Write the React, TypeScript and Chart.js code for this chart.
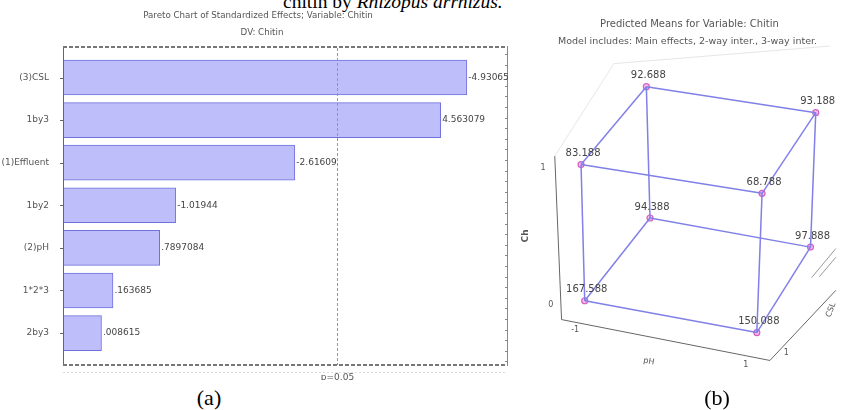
import React, { useEffect, useRef } from "react";
import { Chart, registerables } from "chart.js";

Chart.register(...registerables);

// ---------- Panel (a): Pareto chart ----------
const categories = ["(3)CSL", "1by3", "(1)Effluent", "1by2", "(2)pH", "1*2*3", "2by3"];
// bar lengths as drawn in the picture (standardized effect units)
const effectLengths = [4.93, 4.61, 2.83, 1.375, 1.18, 0.61, 0.47];
const effectLabels = ["-4.93065", "4.563079", "-2.61609", "-1.01944", ".7897084", ".163685", ".008615"];
const pCritical = 3.34;
const pLabel = "p=0.05";
const paretoTitle = ["Pareto Chart of Standardized Effects; Variable: Chitin", "DV: Chitin"];

// ---------- Panel (b): cube of predicted means ----------
const cubeMeans = [167.588, 150.088, 94.388, 97.888, 83.188, 68.788, 92.688, 93.188];
const levelA = [-1, 1, -1, 1, -1, 1, -1, 1]; // horizontal factor (pH)
const levelB = [-1, -1, -1, -1, 1, 1, 1, 1]; // vertical factor
const levelC = [-1, -1, 1, 1, -1, -1, 1, 1]; // depth factor
const cubeEdges = [
  [0, 1], [2, 3], [4, 5], [6, 7],
  [0, 2], [1, 3], [4, 6], [5, 7],
  [0, 4], [1, 5], [2, 6], [3, 7],
];
const cubeTitle = [
  "Predicted Means for Variable: Chitin",
  "Model includes: Main effects, 2-way inter., 3-way inter.",
];

const FONT = "DejaVu Sans";
const TXT = "#444";

function ParetoChart() {
  const ref = useRef<HTMLCanvasElement>(null);
  useEffect(() => {
    const decor = {
      id: "paretoDecor",
      afterDatasetsDraw(chart: any) {
        const ctx = chart.ctx as CanvasRenderingContext2D;
        const { left, right, top, bottom } = chart.chartArea;
        ctx.save();
        // title
        ctx.fillStyle = "#555";
        ctx.font = `8.7px "${FONT}"`;
        ctx.textAlign = "center";
        ctx.textBaseline = "middle";
        ctx.fillText(paretoTitle[0], 258, 16);
        ctx.fillText(paretoTitle[1], 262, 33);

        // left axis
        ctx.strokeStyle = "#666";
        ctx.lineWidth = 1;
        ctx.beginPath();
        ctx.moveTo(left + 0.5, top);
        ctx.lineTo(left + 0.5, bottom + 1);
        ctx.stroke();
        const ys = chart.scales.y;
        categories.forEach((_, i) => {
          const y = Math.round(ys.getPixelForValue(i)) + 0.5;
          ctx.beginPath();
          ctx.moveTo(left - 3, y);
          ctx.lineTo(left + 1, y);
          ctx.stroke();
        });
        // right axis
        ctx.strokeStyle = "#888";
        ctx.beginPath();
        ctx.moveTo(right + 0.5, top);
        ctx.lineTo(right + 0.5, bottom + 1);
        ctx.stroke();
        for (let y = top + 8; y < bottom; y += 10.6) {
          ctx.beginPath();
          ctx.moveTo(right - 2, Math.round(y) + 0.5);
          ctx.lineTo(right, Math.round(y) + 0.5);
          ctx.stroke();
        }
        // top and bottom dashed axes
        ctx.lineWidth = 2;
        ctx.setLineDash([4, 2]);
        ctx.strokeStyle = "#777";
        ctx.beginPath();
        ctx.moveTo(left, top + 1);
        ctx.lineTo(right, top + 1);
        ctx.stroke();
        ctx.beginPath();
        ctx.moveTo(left, bottom);
        ctx.lineTo(right, bottom);
        ctx.stroke();
        // faint dotted row below
        ctx.lineWidth = 1;
        ctx.setLineDash([2, 2]);
        ctx.strokeStyle = "#dcdcdc";
        ctx.beginPath();
        ctx.moveTo(left, bottom + 7.5);
        ctx.lineTo(right, bottom + 7.5);
        ctx.stroke();

        // critical p line
        const px = Math.round(chart.scales.x.getPixelForValue(pCritical)) + 0.5;
        ctx.strokeStyle = "rgb(232,110,150)";
        ctx.lineWidth = 1;
        ctx.setLineDash([3, 2]);
        ctx.beginPath();
        ctx.moveTo(px, top + 2);
        ctx.lineTo(px, bottom);
        ctx.stroke();
        ctx.setLineDash([]);
        ctx.fillStyle = "#555";
        ctx.font = `9px "${FONT}"`;
        ctx.textAlign = "center";
        ctx.textBaseline = "middle";
        ctx.fillText(pLabel, px, bottom + 13);

        // value labels
        const meta = chart.getDatasetMeta(0);
        ctx.fillStyle = TXT;
        ctx.font = `9px "${FONT}"`;
        ctx.textAlign = "left";
        meta.data.forEach((el: any, i: number) => {
          ctx.fillText(effectLabels[i], el.x + 1.5, el.y);
        });
        ctx.restore();
      },
    };
    const chart = new Chart(ref.current as HTMLCanvasElement, {
      type: "bar",
      data: {
        datasets: [
          {
            data: effectLengths.map((v, i) => ({ x: v, y: i })),
            backgroundColor: "rgb(190,190,250)",
            borderColor: "rgb(112,112,222)",
            borderWidth: 1,
            borderSkipped: false,
            barThickness: 35,
          } as any,
        ],
      },
      options: {
        animation: false,
        responsive: false,
        indexAxis: "y",
        layout: { padding: { top: 46, right: 5, bottom: 15, left: 0 } },
        plugins: { legend: { display: false }, tooltip: { enabled: false }, title: { display: false } },
        scales: {
          x: { type: "linear", display: false, min: 0, max: 5.42, offset: false },
          y: {
            type: "linear",
            min: -0.74,
            max: 6.75,
            reverse: true,
            offset: false,
            grid: { display: false, offset: false },
            border: { display: false },
            afterBuildTicks: (s: any) => {
              s.ticks = categories.map((_, i) => ({ value: i }));
            },
            afterFit: (s: any) => {
              s.width = 63;
            },
            ticks: {
              autoSkip: false,
              padding: 6,
              color: "#555",
              font: { family: FONT, size: 9 },
              callback: (v: any) => categories[v as number] ?? "",
            },
          },
        },
      } as any,
      plugins: [decor],
    });
    return () => chart.destroy();
  }, []);
  return (
    <canvas
      ref={ref}
      width={512}
      height={380}
      style={{ position: "absolute", left: 0, top: 0, width: 512, height: 380 }}
    />
  );
}

// projection of the cube levels onto the panel (page pixel units)
const CENTER = { x: 701.8, y: 207.3 };
function project(a: number, b: number, c: number) {
  return {
    x: CENTER.x + 88.1 * a + 0.4 * b + 30.7 * c + 2.3 * a * b - 3.0 * a * c,
    y: CENTER.y + 14.85 * a - 69.5 * b - 41.95 * c - 0.8 * a * b - 0.7 * a * c + 1.25 * b * c,
  };
}

function CubeChart() {
  const ref = useRef<HTMLCanvasElement>(null);
  useEffect(() => {
    const verts = cubeMeans.map((_, i) => project(levelA[i], levelB[i], levelC[i]));
    const edgeSets = cubeEdges.map(([p, q]) => ({
      type: "line",
      data: [verts[p], verts[q]],
      showLine: true,
      borderColor: "rgb(128,128,232)",
      borderWidth: 1.5,
      pointRadius: 0,
    }));
    const decor = {
      id: "cubeDecor",
      beforeDatasetsDraw(chart: any) {
        const ctx = chart.ctx as CanvasRenderingContext2D;
        const X = (v: number) => chart.scales.x.getPixelForValue(v);
        const Y = (v: number) => chart.scales.y.getPixelForValue(v);
        ctx.save();
        ctx.fillStyle = "#555";
        ctx.font = `10px "${FONT}"`;
        ctx.textAlign = "center";
        ctx.textBaseline = "middle";
        ctx.fillText(cubeTitle[0], X(690), Y(20));
        ctx.font = `9.5px "${FONT}"`;
        ctx.fillText(cubeTitle[1], X(688), Y(37));

        // box frame
        ctx.strokeStyle = "#666";
        ctx.lineWidth = 1;
        ctx.beginPath();
        ctx.moveTo(X(551), Y(155));
        ctx.lineTo(X(558), Y(323));
        ctx.lineTo(X(773), Y(365));
        ctx.lineTo(X(841), Y(293));
        ctx.stroke();
        ctx.strokeStyle = "#999";
        ctx.beginPath();
        ctx.moveTo(X(816), Y(280));
        ctx.lineTo(X(841), Y(250));
        ctx.moveTo(X(824), Y(279));
        ctx.lineTo(X(841), Y(259));
        ctx.stroke();
        // faint back wall
        ctx.strokeStyle = "#e6e6e6";
        ctx.beginPath();
        ctx.moveTo(X(551), Y(155));
        ctx.lineTo(X(612), Y(60));
        ctx.lineTo(X(835), Y(42));
        ctx.stroke();

        // axis texts
        ctx.fillStyle = "#555";
        ctx.font = `8px "${FONT}"`;
        ctx.fillText("1", X(539), Y(167));
        ctx.fillText("0", X(547), Y(308));
        ctx.fillText("-1", X(572), Y(334));
        ctx.fillText("1", X(748), Y(370));
        ctx.fillText("1", X(790), Y(357));
        ctx.save();
        ctx.translate(X(648), Y(366));
        ctx.rotate(0.18);
        ctx.fillText("pH", 0, 0);
        ctx.restore();
        ctx.save();
        ctx.translate(X(521), Y(237));
        ctx.rotate(-Math.PI / 2);
        ctx.font = `bold 9px "${FONT}"`;
        ctx.fillText("Ch", 0, 0);
        ctx.restore();
        ctx.save();
        ctx.translate(X(836), Y(313));
        ctx.rotate(-1.2);
        ctx.font = `8px "${FONT}"`;
        ctx.fillText("CSL", 0, 0);
        ctx.restore();
        ctx.restore();
      },
      afterDatasetsDraw(chart: any) {
        const ctx = chart.ctx as CanvasRenderingContext2D;
        const meta = chart.getDatasetMeta(chart.data.datasets.length - 1);
        ctx.save();
        ctx.fillStyle = TXT;
        ctx.font = `10px "${FONT}"`;
        ctx.textAlign = "center";
        ctx.textBaseline = "middle";
        meta.data.forEach((el: any, i: number) => {
          ctx.fillText(cubeMeans[i].toFixed(3), el.x + 2, el.y - 11);
        });
        ctx.restore();
      },
    };
    const chart = new Chart(ref.current as HTMLCanvasElement, {
      type: "scatter",
      data: {
        datasets: [
          ...(edgeSets as any[]),
          {
            data: verts,
            showLine: false,
            pointRadius: 3,
            pointBackgroundColor: "rgba(245,190,235,1)",
            pointBorderColor: "rgb(215,95,195)",
            pointBorderWidth: 1.2,
          },
        ],
      },
      options: {
        animation: false,
        responsive: false,
        layout: { padding: 0 },
        plugins: { legend: { display: false }, tooltip: { enabled: false } },
        scales: {
          x: { type: "linear", display: false, min: 505, max: 841 },
          y: { type: "linear", display: false, min: 0, max: 390, reverse: true },
        },
      } as any,
      plugins: [decor],
    });
    return () => chart.destroy();
  }, []);
  return (
    <canvas
      ref={ref}
      width={336}
      height={390}
      style={{ position: "absolute", left: 505, top: 0, width: 336, height: 390 }}
    />
  );
}

export default function App() {
  const serif = '"Liberation Serif", "Times New Roman", serif';
  return (
    <div
      style={{
        position: "absolute",
        left: 0,
        top: 0,
        width: 841,
        height: 410,
        background: "#fff",
        overflow: "hidden",
      }}
    >
      <div
        style={{
          position: "absolute",
          left: 283,
          top: -8,
          fontFamily: serif,
          fontSize: 19.5,
          lineHeight: "19.5px",
          whiteSpace: "nowrap",
          color: "#000",
        }}
      >
        chitin by <i>Rhizopus arrhizus.</i>
      </div>
      <ParetoChart />
      <CubeChart />
      <div
        style={{
          position: "absolute",
          left: 209,
          top: 387,
          transform: "translateX(-50%)",
          fontFamily: serif,
          fontSize: 22,
          lineHeight: "22px",
          whiteSpace: "nowrap",
          color: "#000",
        }}
      >
        (a)
      </div>
      <div
        style={{
          position: "absolute",
          left: 717,
          top: 387,
          transform: "translateX(-50%)",
          fontFamily: serif,
          fontSize: 22,
          lineHeight: "22px",
          whiteSpace: "nowrap",
          color: "#000",
        }}
      >
        (b)
      </div>
    </div>
  );
}
